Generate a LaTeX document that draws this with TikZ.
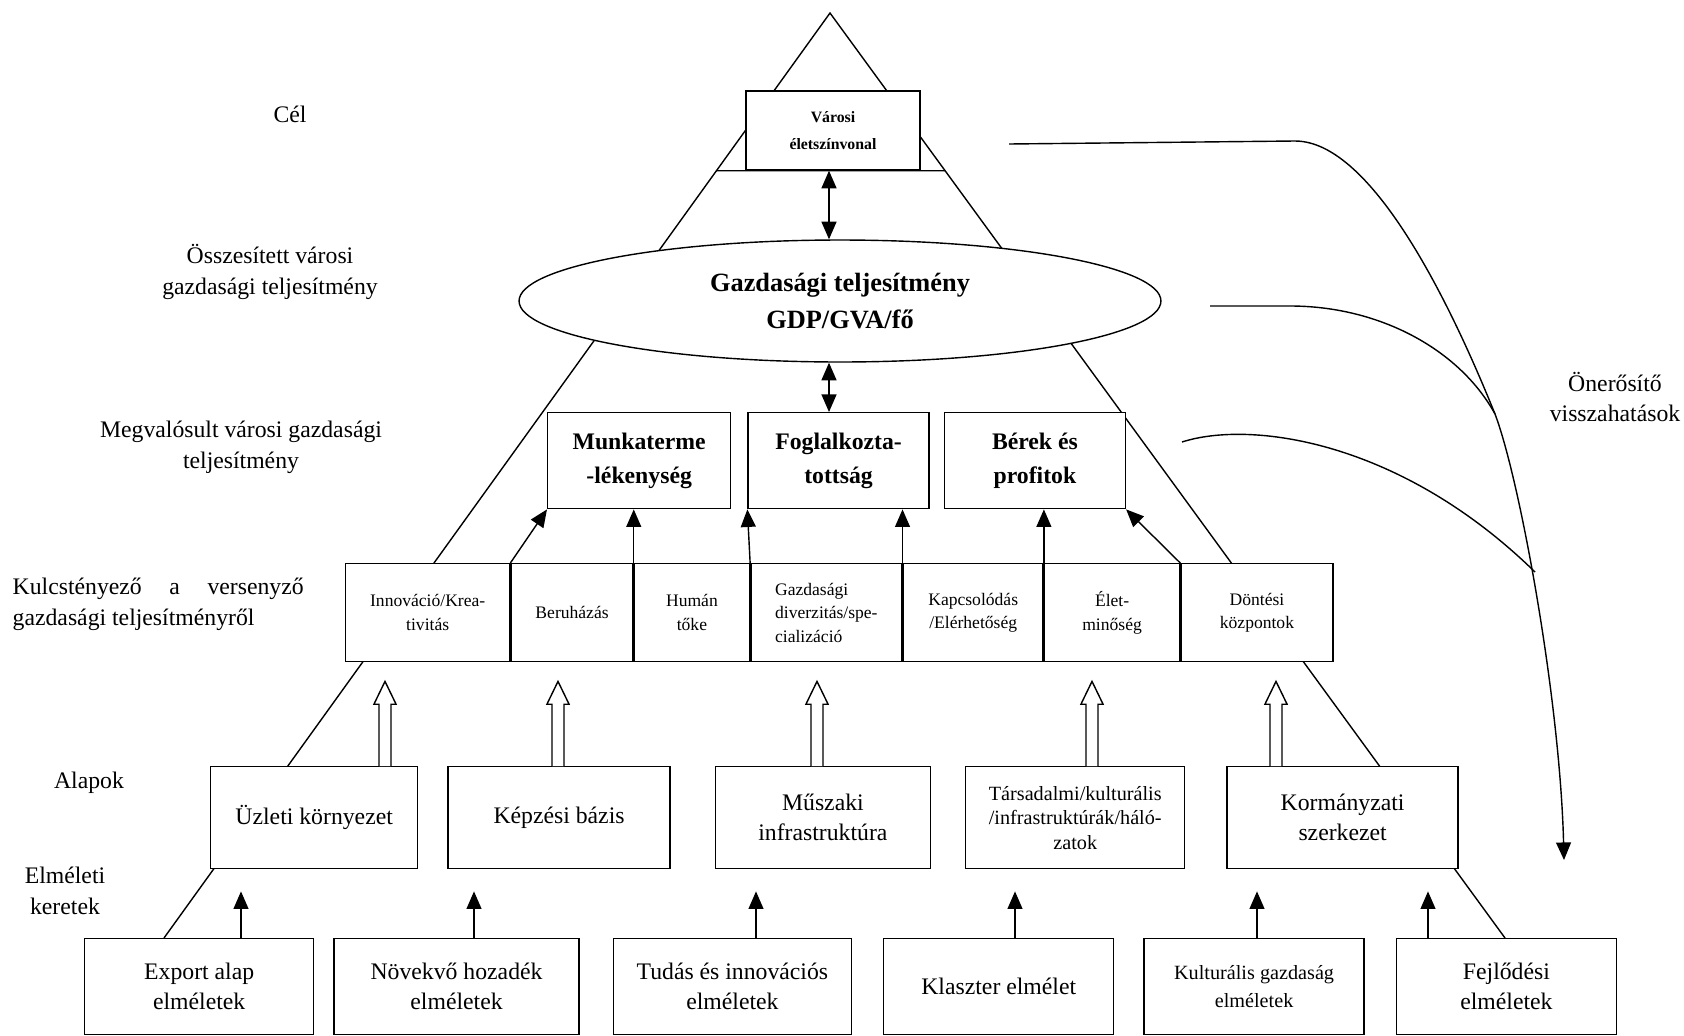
\documentclass[tikz,border=0pt]{standalone}
\usepackage{fontspec}
\setmainfont{Liberation Serif}
\usetikzlibrary{positioning, calc, shapes.geometric, arrows.meta}

\tikzset{
  box/.style={draw, fill=white, line width=0.8pt, align=center, inner sep=1pt,
    font=\fontsize{13.5}{17}\selectfont},
  cell/.style={box, minimum height=1.96cm, font=\fontsize{10}{13.5}\selectfont},
  res/.style={box, minimum height=1.92cm, minimum width=3.62cm,
    font=\bfseries\fontsize{13.5}{19}\selectfont},
  alap/.style={box, minimum height=2.04cm},
  elm/.style={box, minimum height=1.92cm},
  lbl/.style={align=center, font=\fontsize{13.5}{17.5}\selectfont},
  arr/.style={-{Triangle[length=10pt,width=8.5pt]}},
  dbl/.style={{Triangle[length=10pt,width=8.5pt]}-{Triangle[length=10pt,width=8.5pt]}},
}

% hollow arrow: #1 foot, #2 tip
\newcommand{\hollowarrow}[2]{%
  \draw[line width=0.8pt, fill=white, line join=miter]
    ($(#1)+(-3.4pt,0)$) -- ($(#2)+(-3.4pt,-13pt)$) -- ($(#2)+(-6.3pt,-13pt)$) -- (#2)
    -- ($(#2)+(6.3pt,-13pt)$) -- ($(#2)+(3.4pt,-13pt)$) -- ($(#1)+(3.4pt,0)$);}

\begin{document}
\begin{tikzpicture}[x=0.02cm, y=-0.02cm, line width=0.8pt]
\useasboundingbox (0,0) rectangle (1684,1035);

% pyramid
\coordinate (apex) at (830,13);
\coordinate (baseL) at (164,938);
\coordinate (baseR) at (1505,938);
\draw (baseL) -- (apex) -- (baseR);

% goal
\node[box, font=\bfseries\fontsize{9}{15}\selectfont, minimum width=3.48cm, minimum height=1.58cm] (var) at (833,130.5) {Városi\\életszínvonal};
\draw (intersection of apex--baseL and var.south west--var.south east) -- (intersection of apex--baseR and var.south west--var.south east);

\node[box, ellipse, inner sep=0pt, minimum width=12.84cm, minimum height=2.44cm,
  font=\bfseries\fontsize{15}{21}\selectfont] (gdp) at (840,301) {Gazdasági teljesítmény\\GDP/GVA/fő};

% realised performance
\node[res, minimum width=3.66cm, anchor=north west] (munka) at (547,412) {Munkaterme\\-lékenység};
\node[res, right=0.32cm of munka] (fogl) {Foglalkozta-\\tottság};
\node[res, right=0.28cm of fogl] (berek) {Bérek és\\profitok};

% key factors
\node[cell, minimum width=3.28cm, anchor=north west] (innov) at (345,563) {Innováció/Krea-\\tivitás};
\node[cell, minimum width=2.44cm, right=0pt of innov] (beruh) {Beruházás};
\node[cell, minimum width=2.30cm, right=0pt of beruh] (human) {Humán\\tőke};
\node[cell, minimum width=3.02cm, right=0pt of human, align=left] (divers) {Gazdasági\\diverzitás/spe-\\cializáció};
\node[cell, minimum width=2.80cm, right=0pt of divers] (kapcs) {Kapcsolódás\\/Elérhetőség};
\node[cell, minimum width=2.70cm, right=0pt of kapcs] (elet) {Élet-\\minőség};
\node[cell, minimum width=3.04cm, right=0pt of elet] (dont) {Döntési\\központok};

% foundations
\node[alap, minimum width=4.14cm, anchor=north west] (uzleti) at (210,766) {Üzleti környezet};
\node[alap, minimum width=4.44cm, right=0.58cm of uzleti] (kepzesi) {Képzési bázis};
\node[alap, minimum width=4.30cm, right=0.88cm of kepzesi] (muszaki) {Műszaki\\infrastruktúra};
\node[alap, minimum width=4.38cm, right=0.68cm of muszaki, font=\fontsize{11.5}{14}\selectfont] (tars) {Társadalmi/kulturális\\/infrastruktúrák/háló-\\zatok};
\node[alap, minimum width=4.62cm, right=0.82cm of tars] (korm) {Kormányzati\\szerkezet};

% theories
\node[elm, minimum width=4.58cm, anchor=north west] (export) at (84,938) {Export alap\\elméletek};
\node[elm, minimum width=4.90cm, right=0.38cm of export] (novekvo) {Növekvő hozadék\\elméletek};
\node[elm, minimum width=4.76cm, right=0.66cm of novekvo] (tudas) {Tudás és innovációs\\elméletek};
\node[elm, minimum width=4.60cm, right=0.62cm of tudas] (klaszter) {Klaszter elmélet};
\node[elm, minimum width=4.40cm, right=0.58cm of klaszter, font=\fontsize{11.5}{16}\selectfont] (kultur) {Kulturális gazdaság\\elméletek};
\node[elm, minimum width=4.40cm, right=0.62cm of kultur] (fejl) {Fejlődési\\elméletek};

% left labels
\node[lbl] (cel) at (290,114) {Cél};
\node[lbl] (osszes) at (270,272) {Összesített városi\\gazdasági teljesítmény};
\node[lbl] (megval) at (241,447) {Megvalósult városi gazdasági\\teljesítmény};
\node[lbl, align=left, anchor=west, inner sep=0pt] (kulcs) at (12,604)
  {\hbox to 5.82cm{Kulcstényező\hfill a\hfill versenyző}\\gazdasági teljesítményről};
\node[lbl] (alapok) at (89,783) {Alapok};
\node[lbl] (elmeleti) at (65,891) {Elméleti\\keretek};
\node[lbl] (oner) at (1615,397) {Önerősítő\\visszahatások};

% theories -> foundations
\foreach \s/\t/\x in {export/uzleti/241, novekvo/kepzesi/474, tudas/muszaki/756,
    klaszter/tars/1015, kultur/korm/1257, fejl/korm/1428}{
  \coordinate (xx) at (\x,0);
  \draw[arr, shorten >=0.44cm] (\s.north -| xx) -- (\t.south -| xx);
}

% foundations -> key factors
\foreach \s/\x in {uzleti/385, kepzesi/558, muszaki/817, tars/1092, korm/1276}{
  \coordinate (xx) at (\x,0);
  \coordinate (foot) at (\s.north -| xx);
  \coordinate (tip) at ($(innov.south -| xx)+(0,-0.38cm)$);
  \hollowarrow{foot}{tip}
}

% key factors -> results
\draw[arr] (innov.north east) -- (munka.south west);
\draw[arr] (beruh.north east) -- (munka.south -| beruh.east);
\draw[arr] (human.north east) -- (fogl.south west);
\draw[arr] (divers.north east) -- (fogl.south -| divers.east);
\draw[arr] (kapcs.north east) -- (berek.south -| kapcs.east);
\draw[arr] (elet.north east) -- (berek.south east);

% central axis
\coordinate (axis) at (829,0);
\draw[dbl] (var.south -| axis) -- (gdp.north -| axis);
\draw[dbl] (gdp.south -| axis) -- (fogl.north -| axis);

% feedback
\coordinate (fb1) at (1009,144);
\coordinate (fb2) at (1210,306);
\coordinate (fb3) at (1182,442);
\coordinate (j1) at (1495,414);
\coordinate (j2) at (1535,572);
\coordinate (fbend) at (1564,860);
\draw[arr] (fb1) -- (1295,141) .. controls (1380,141) and (1465,340) .. (j1)
  .. controls (1520,480) and (1560,700) .. (fbend);
\draw (fb2) -- (1290,306) .. controls (1380,306) and (1460,350) .. (j1);
\draw (fb3) .. controls (1250,420) and (1400,440) .. (j2);
\end{tikzpicture}
\end{document}
